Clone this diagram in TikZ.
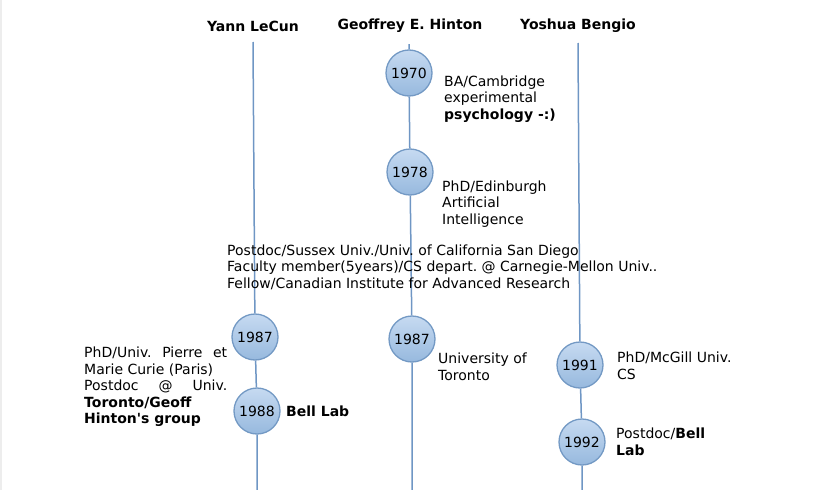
\documentclass[tikz,border=0pt]{standalone}
\usepackage{fontspec}
\setmainfont{DejaVu Sans}[Ligatures=TeXOff]
\frenchspacing
\definecolor{linec}{HTML}{6F96C4}
\definecolor{circb}{HTML}{7399C4}
\definecolor{ctop}{HTML}{C6DAF1}
\definecolor{cbot}{HTML}{97B9DE}
\begin{document}
\begin{tikzpicture}[x=1pt,y=-1pt,
  yr/.style={circle,draw=circb,line width=1.3pt,top color=ctop,bottom color=cbot,minimum size=46pt,inner sep=0pt,font=\fontsize{14}{16}\selectfont},
  hd/.style={font=\fontsize{14}{16}\selectfont\bfseries,inner sep=0pt},
  txt/.style={anchor=west,inner sep=0pt,align=left,font=\fontsize{14}{16.5}\selectfont\frenchspacing},
  tl/.style={draw=linec,line width=1.5pt}]
\useasboundingbox (0,0) rectangle (815,490);
\fill[black!7] (0,0) rectangle (2,490);
% headers
\node[hd] (h1) at (253,26) {Yann LeCun};
\node[hd] (h2) at (410,26) {Geoffrey E. Hinton};
\node[hd] (h3) at (578,26) {Yoshua Bengio};
% LeCun
\coordinate (l0) at (253,42);
\node[yr] (l1) at (255,337) {1987};
\node[yr] (l2) at (257,411) {1988};
\coordinate (l3) at (257,490);
\draw[tl] (l0) -- (l1) -- (l2) -- (l3);
% Hinton
\coordinate (g0) at (409,44);
\node[yr] (g1) at (409,73) {1970};
\node[yr] (g2) at (410,172) {1978};
\node[yr] (g3) at (412,339) {1987};
\coordinate (g4) at (412,490);
\draw[tl] (g0) -- (g1) -- (g2) -- (g3) -- (g4);
% Bengio
\coordinate (b0) at (578,43);
\node[yr] (b1) at (580,365) {1991};
\node[yr] (b2) at (582,442) {1992};
\coordinate (b3) at (582,490);
\draw[tl] (b0) -- (b1) -- (b2) -- (b3);
% texts
\node[txt] (t1) at (444,99) {BA/Cambridge\\experimental\\\textbf{psychology -:)}};
\node[txt] (t2) at (442,204) {PhD/Edinburgh\\Artificial\\Intelligence};
\node[txt] (t3) at (227,267) {Postdoc/Sussex Univ./Univ. of California San Diego\\Faculty member(5years)/CS depart. @ Carnegie-Mellon Univ..\\Fellow/Canadian Institute for Advanced Research};
\node[txt] (t4) at (84,387) {\makebox[143pt][s]{PhD/Univ. Pierre et}\\Marie Curie (Paris)\\\makebox[143pt][s]{Postdoc @ Univ.}\\\textbf{Toronto/Geoff}\\\textbf{Hinton's group}};
\node[txt,font=\fontsize{14}{16.5}\selectfont\bfseries] (t5) at (286,411) {Bell Lab};
\node[txt] (t6) at (438,367) {University of\\Toronto};
\node[txt] (t7) at (617,366) {PhD/McGill Univ.\\CS};
\node[txt] (t8) at (616,442) {Postdoc/\textbf{Bell}\\\textbf{Lab}};
\end{tikzpicture}
\end{document}
